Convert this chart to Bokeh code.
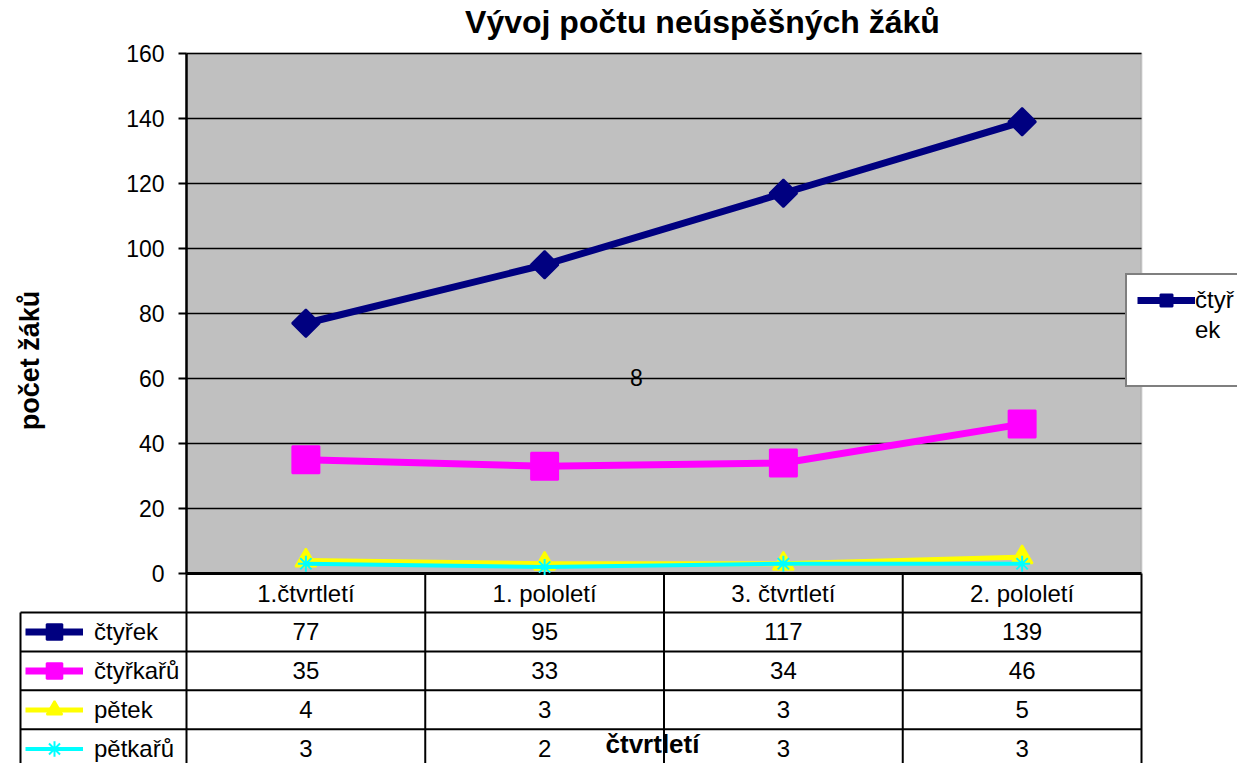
import math
from bokeh.plotting import figure
from bokeh.models import (Range1d, LinearAxis, FixedTicker, BoxAnnotation, Grid,
                          Legend, LegendItem, Label, ColumnDataSource)
from bokeh.core.properties import value
from bokeh.embed import file_html
from bokeh.resources import INLINE

# ---------------- data ----------------
title = "Vývoj počtu neúspěšných žáků"
y_label = "počet žáků"
x_label = "čtvrtletí"
categories = ["1.čtvrtletí", "1. pololetí", "3. čtvrtletí", "2. pololetí"]
series_names = ["čtyřek", "čtyřkařů", "pětek", "pětkařů"]
ctyrek = [77, 95, 117, 139]
ctyrkaru = [35, 33, 34, 46]
petek = [4, 3, 3, 5]
petkaru = [3, 2, 3, 3]
y_ticks = [0, 20, 40, 60, 80, 100, 120, 140, 160]
stray_label = "8"
legend_label_lines = ["čtyř", "ek"]

series_values = [ctyrek, ctyrkaru, petek, petkaru]

# ---------------- styles / layout ----------------
FONT = "Liberation Sans"
colors = ["#000080", "#FF00FF", "#FFFF00", "#00FFFF"]
line_widths = [7, 7, 5, 4]
markers = ["square", "square", "triangle", "asterisk"]
marker_sizes = [19.5, 27, 21, 16]
marker_angles = [math.pi / 4, 0, 0, 0]

W, H = 1237, 763
PX_X = 238.75            # pixels per category
PX_Y = 3.25              # pixels per unit
X_ORIGIN, Y_ORIGIN = 186, 573
X0, X1 = -X_ORIGIN / PX_X, (W - X_ORIGIN) / PX_X
Y0, Y1 = (Y_ORIGIN - H) / PX_Y, Y_ORIGIN / PX_Y
X_TAB = (20 - X_ORIGIN) / PX_X   # left edge of the data-table label column
HEAD = -12.0             # bottom of header row
ROW = 11.97              # row height in data units

n = len(categories)
xs = [i + 0.5 for i in range(n)]

p = figure(width=W, height=H, x_range=Range1d(X0, X1), y_range=Range1d(Y0, Y1),
           output_backend="svg", toolbar_location=None,
           x_axis_type=None, y_axis_type=None, min_border=0,
           outline_line_color=None, background_fill_color="white",
           border_fill_color="white")

# plot area background
p.add_layout(BoxAnnotation(left=0, right=n, bottom=y_ticks[0], top=y_ticks[-1],
                           fill_color="#C0C0C0", fill_alpha=1.0,
                           line_color="#808080", line_width=2, level="image"))

# horizontal grid
grid = Grid(dimension=1, ticker=FixedTicker(ticks=y_ticks[1:]),
            grid_line_color="black", grid_line_width=1.5)
if "cross_bounds" in Grid.properties():
    grid.cross_bounds = (0, n)
    p.add_layout(grid)
else:
    p.segment(x0=[0] * (len(y_ticks) - 1), x1=[n] * (len(y_ticks) - 1),
              y0=y_ticks[1:], y1=y_ticks[1:], line_color="black", line_width=1.5)

# y axis at x = 0
yaxis = LinearAxis(fixed_location=0, bounds=(y_ticks[0], y_ticks[-1]),
                   ticker=FixedTicker(ticks=y_ticks),
                   axis_line_width=2.5, axis_line_color="black",
                   major_tick_out=8, major_tick_in=0, major_tick_line_width=2,
                   minor_tick_out=0, minor_tick_in=0,
                   major_label_text_font=FONT, major_label_text_font_size="23px",
                   major_label_text_color="black", major_label_standoff=14)
p.add_layout(yaxis, "left")

# ---------------- data table grid ----------------
row_edges = [HEAD - ROW * k for k in range(len(series_names))]
p.segment(x0=[0], x1=[n], y0=[0], y1=[0], line_color="black", line_width=3)
p.segment(x0=[X_TAB] * len(row_edges), x1=[n] * len(row_edges),
          y0=row_edges, y1=row_edges, line_color="black", line_width=2)
p.segment(x0=[X_TAB], x1=[X_TAB], y0=[HEAD], y1=[Y0], line_color="black", line_width=2)
p.segment(x0=list(range(n + 1)), x1=list(range(n + 1)),
          y0=[0] * (n + 1), y1=[Y0] * (n + 1), line_color="black", line_width=2)

# header labels
p.text(x=xs, y=[HEAD / 2] * n, text=categories, text_align="center",
       text_baseline="middle", text_font=value(FONT), text_font_size="24px",
       text_color="black")

# values
for k, vals in enumerate(series_values):
    yc = HEAD - ROW * k - ROW / 2
    p.text(x=xs, y=[yc] * n, text=[str(v) for v in vals], text_align="center",
           text_baseline="middle", text_font=value(FONT), text_font_size="24px",
           text_color="black")

# ---------------- series ----------------
renderers = []
for k, vals in enumerate(series_values):
    src = ColumnDataSource(dict(x=xs, y=vals))
    lr = p.line("x", "y", source=src, line_color=colors[k], line_width=line_widths[k])
    mr = p.scatter("x", "y", source=src, marker=markers[k], size=marker_sizes[k],
                   angle=marker_angles[k], fill_color=colors[k], line_color=colors[k],
                   line_width=2)
    renderers.append((lr, mr))

# legend keys inside table
tbl_items = [LegendItem(label=series_names[k], renderers=list(renderers[k]))
             for k in range(len(series_names))]
tbl_legend = Legend(items=tbl_items, location=(25, -5), orientation="vertical",
                    padding=0, margin=0, spacing=0, glyph_width=58, glyph_height=39,
                    label_height=39, label_standoff=11, label_text_font=FONT,
                    label_text_font_size="24px", label_text_color="black",
                    border_line_color=None, background_fill_alpha=0)
p.add_layout(tbl_legend)

# right-hand legend (truncated, wrapped)
side_items = [LegendItem(label=legend_label_lines[0], renderers=list(renderers[0])),
              LegendItem(label=legend_label_lines[1], renderers=[]),
              LegendItem(label=" ", renderers=[])]
side_legend = Legend(items=side_items, location=(1125, 376), orientation="vertical",
                     padding=10, margin=0, spacing=0, glyph_width=58, glyph_height=30,
                     label_height=30, label_standoff=0, label_text_font=FONT,
                     label_text_font_size="24px", label_text_color="black",
                     border_line_color="black", border_line_width=2,
                     background_fill_color="white", background_fill_alpha=1)
p.add_layout(side_legend)

# ---------------- texts ----------------
p.add_layout(Label(x=(702 - X_ORIGIN) / PX_X, y=(Y_ORIGIN - 21) / PX_Y, text=title,
                   text_font=FONT, text_font_size="32px",
                   text_font_style="bold", text_align="center", text_baseline="middle",
                   text_color="black"))
p.add_layout(Label(x=(29 - X_ORIGIN) / PX_X, y=(Y_ORIGIN - 360) / PX_Y, text=y_label,
                   angle=math.pi / 2, text_font=FONT,
                   text_font_size="27px", text_font_style="bold", text_align="center",
                   text_baseline="middle", text_color="black"))
p.add_layout(Label(x=(652 - X_ORIGIN) / PX_X, y=(Y_ORIGIN - 743) / PX_Y, text=x_label,
                   text_font=FONT, text_font_size="26px",
                   text_font_style="bold", text_align="center", text_baseline="middle",
                   text_color="black"))
p.add_layout(Label(x=(636 - X_ORIGIN) / PX_X, y=(Y_ORIGIN - 377) / PX_Y, text=stray_label,
                   text_font=FONT,
                   text_font_size="23px", text_align="center", text_baseline="middle",
                   text_color="black"))

open("out.html", "w").write(file_html(p, INLINE))
